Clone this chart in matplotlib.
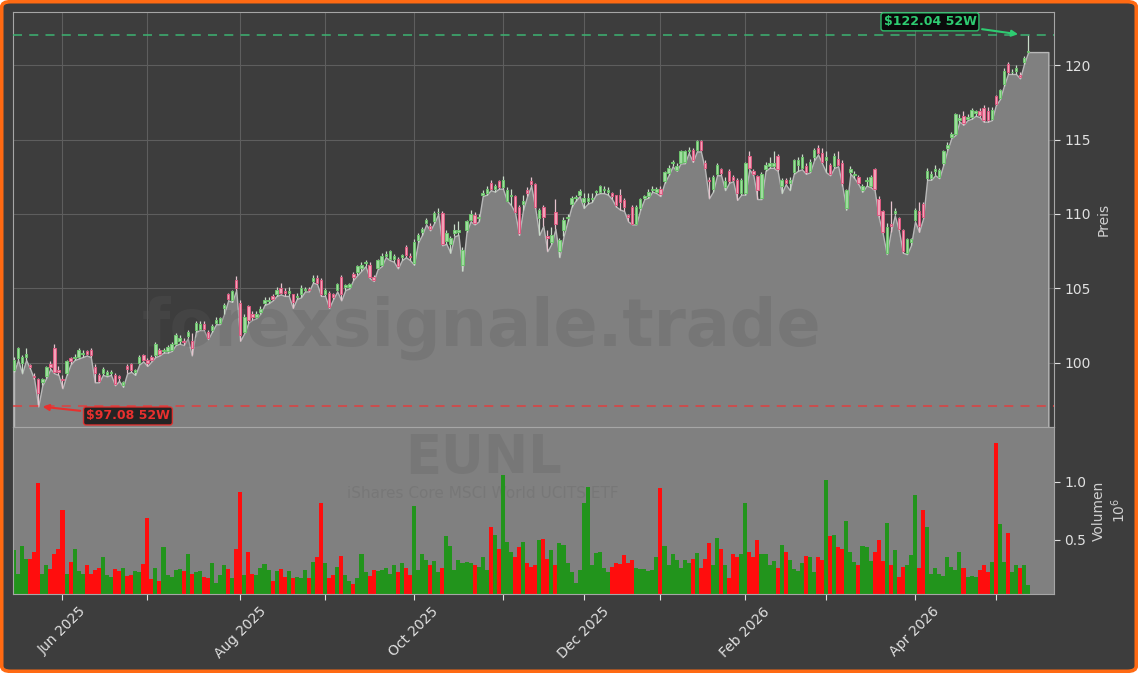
import matplotlib
matplotlib.use("Agg")
import matplotlib.pyplot as plt
import numpy as np
import pandas as pd
from matplotlib.patches import FancyBboxPatch

# daily OHLC of EUNL (Xetra)
opens = [
    99.5, 100.3, 100.0, 100.4, 99.85, 99.15, 98.9, 98.7, 99.1, 99.9,
    101.0, 99.5, 98.95, 99.3, 100.3, 100.35, 100.4, 100.6, 100.8, 100.9,
    99.75, 99.2, 99.3, 99.2, 99.3, 99.2, 99.1, 98.5, 99.8, 99.9,
    99.4, 100.0, 100.5, 100.2, 100.4, 100.5, 100.9, 100.8, 100.8, 100.9,
    101.3, 101.5, 101.5, 101.8, 101.5, 102.2, 102.3, 102.6, 102.1, 102.2,
    102.7, 102.7, 103.7, 104.6, 104.2, 105.6, 104.05, 102.1, 103.8, 103.3,
    103.1, 103.4, 104.05, 104.15, 104.5, 104.6, 105.0, 104.8, 104.7, 104.6,
    104.4, 104.6, 104.9, 104.95, 105.5, 105.7, 105.6, 104.6, 104.7, 104.6,
    104.9, 105.75, 105.1, 105.1, 106.0, 106.1, 106.35, 106.7, 106.6, 105.8,
    106.4, 106.6, 107.2, 107.0, 107.0, 107.0, 107.1, 107.8, 107.2, 106.7,
    108.25, 108.8, 109.4, 109.2, 109.5, 110.1, 110.05, 108.2, 108.0, 108.75,
    108.8, 106.6, 108.9, 109.6, 109.9, 109.7, 111.3, 111.4, 112.1, 111.7,
    112.2, 111.8, 110.9, 111.2, 111.2, 110.5, 110.7, 111.6, 112.2, 112.0,
    109.7, 110.5, 108.5, 108.15, 110.1, 107.5, 108.9, 109.7, 110.7, 111.1,
    111.3, 110.8, 110.85, 111.0, 111.45, 111.5, 111.6, 111.5, 111.4, 111.3,
    111.3, 110.95, 109.95, 110.45, 109.3, 110.4, 111.1, 111.2, 111.6, 111.5,
    111.7, 112.2, 112.75, 113.4, 112.95, 113.45, 113.5, 114.2, 114.3, 114.3,
    114.9, 113.4, 112.3, 111.7, 112.7, 113.0, 111.8, 112.9, 112.45, 112.3,
    111.4, 111.4, 113.9, 112.9, 112.55, 111.05, 113.0, 113.2, 113.2, 113.9,
    111.9, 112.3, 112.1, 112.8, 113.3, 113.1, 113.2, 112.9, 113.8, 114.4,
    114.1, 113.6, 113.3, 113.2, 113.7, 113.4, 110.4, 112.8, 112.6, 112.5,
    111.6, 112.2, 111.9, 113.0, 111.0, 110.2, 107.4, 109.3, 110.05, 109.7,
    108.9, 107.4, 108.1, 109.6, 110.2, 110.7, 112.4, 112.4, 112.9, 112.5,
    113.4, 114.4, 115.2, 115.4, 116.3, 116.6, 116.4, 116.5, 116.8, 116.9,
    117.1, 116.9, 116.4, 117.9, 117.8, 118.7, 120.07, 119.5, 119.6, 119.3,
    120.2, 120.9,
]
highs = [
    100.4, 101.1, 100.5, 101.0, 99.9, 99.3, 99.0, 99.0, 99.8, 100.1,
    101.3, 99.8, 99.2, 100.2, 100.4, 100.6, 101.0, 100.9, 100.9, 101.0,
    99.9, 99.3, 99.7, 99.5, 99.5, 99.3, 99.2, 98.8, 99.9, 100.0,
    99.6, 100.5, 100.6, 100.3, 100.5, 101.4, 101.0, 101.0, 101.2, 101.4,
    102.0, 101.9, 101.7, 102.2, 102.0, 102.8, 102.8, 102.8, 102.2, 102.6,
    103.1, 103.1, 104.0, 104.7, 104.9, 105.85, 104.2, 103.3, 103.9, 103.5,
    103.5, 103.8, 104.4, 104.4, 104.6, 105.1, 105.35, 105.0, 105.1, 104.6,
    104.7, 105.2, 105.1, 105.1, 105.9, 105.9, 105.7, 105.0, 104.8, 104.7,
    105.4, 105.9, 105.3, 105.4, 106.1, 106.6, 106.8, 106.9, 106.8, 105.9,
    107.0, 107.4, 107.5, 107.6, 107.3, 107.1, 107.3, 107.9, 107.4, 108.3,
    108.7, 109.1, 109.7, 109.4, 110.2, 110.4, 110.2, 108.9, 108.5, 109.3,
    109.5, 107.8, 109.6, 110.3, 110.1, 110.0, 111.6, 111.9, 112.3, 112.0,
    112.3, 112.55, 111.8, 111.7, 111.3, 110.6, 111.3, 111.8, 112.45, 112.1,
    110.4, 110.6, 108.9, 109.1, 111.0, 108.4, 109.8, 110.0, 111.2, 111.3,
    111.7, 111.4, 111.4, 111.4, 111.6, 111.95, 111.9, 111.8, 111.5, 111.3,
    111.7, 111.1, 110.0, 110.6, 110.6, 111.1, 111.3, 111.7, 111.9, 111.8,
    111.9, 112.9, 113.3, 113.6, 113.4, 114.3, 114.3, 114.5, 114.4, 115.0,
    114.95, 113.6, 112.5, 112.6, 113.4, 113.1, 112.5, 113.0, 112.6, 112.4,
    112.4, 113.5, 114.2, 113.0, 112.6, 112.8, 113.5, 113.8, 114.2, 114.0,
    112.4, 112.4, 112.5, 113.7, 113.8, 114.0, 113.4, 113.7, 114.4, 114.6,
    114.4, 114.2, 113.4, 114.1, 114.2, 113.6, 111.7, 113.2, 112.9, 112.6,
    112.0, 112.5, 112.6, 113.1, 111.2, 110.3, 109.4, 110.9, 110.4, 109.8,
    109.0, 108.4, 108.4, 110.4, 110.8, 110.8, 113.1, 112.9, 113.3, 113.1,
    114.3, 114.8, 115.5, 116.8, 116.7, 116.9, 116.7, 117.1, 117.0, 117.1,
    117.3, 117.2, 117.2, 118.0, 118.4, 119.8, 120.2, 119.7, 120.0, 119.5,
    120.6, 122.04,
]
lows = [
    99.4, 100.2, 99.3, 100.2, 99.6, 98.9, 97.08, 98.5, 99.0, 99.6,
    99.3, 99.2, 98.3, 99.2, 99.9, 100.2, 100.3, 100.4, 100.5, 100.4,
    98.7, 98.7, 99.2, 99.1, 99.2, 98.5, 98.8, 98.4, 99.3, 99.4,
    99.2, 99.9, 100.1, 99.8, 100.1, 100.4, 100.5, 100.7, 100.7, 100.8,
    101.2, 101.3, 101.2, 101.65, 100.5, 102.1, 102.2, 102.2, 101.6, 102.1,
    102.6, 102.6, 103.3, 104.2, 104.1, 104.9, 101.5, 102.0, 102.7, 102.9,
    103.0, 103.3, 103.9, 104.0, 104.2, 104.5, 104.6, 104.5, 104.5, 103.7,
    104.3, 104.4, 104.8, 104.8, 105.4, 105.3, 104.5, 104.5, 103.7, 104.3,
    104.8, 104.2, 104.9, 105.0, 105.6, 105.9, 106.2, 106.5, 105.7, 105.5,
    106.3, 106.5, 107.1, 106.9, 106.8, 106.35, 106.9, 107.1, 106.9, 106.6,
    108.1, 108.6, 109.3, 108.9, 109.4, 110.0, 107.9, 108.0, 107.4, 108.5,
    108.6, 106.2, 108.8, 109.5, 109.3, 109.5, 111.2, 111.3, 111.6, 111.5,
    111.7, 111.7, 110.9, 110.6, 110.1, 108.6, 110.3, 111.2, 111.9, 110.4,
    108.6, 109.2, 107.5, 108.0, 109.0, 107.1, 108.5, 109.5, 110.5, 110.9,
    111.2, 110.4, 110.7, 110.8, 111.3, 111.4, 111.4, 111.3, 111.0, 110.5,
    110.3, 110.2, 109.5, 109.3, 109.3, 110.3, 111.0, 111.1, 111.5, 111.4,
    111.2, 112.1, 112.6, 113.2, 112.9, 113.4, 113.4, 114.1, 113.5, 114.2,
    114.2, 113.0, 111.05, 111.5, 112.6, 112.6, 111.6, 112.1, 112.2, 110.95,
    111.3, 111.3, 113.0, 112.6, 111.0, 111.0, 112.9, 113.1, 113.1, 112.9,
    111.4, 112.0, 111.6, 112.7, 112.9, 113.0, 112.7, 112.8, 113.6, 114.0,
    113.4, 112.8, 112.6, 113.1, 113.2, 111.9, 110.3, 112.7, 112.4, 112.0,
    111.5, 111.9, 111.8, 111.6, 109.8, 108.7, 107.3, 108.8, 109.9, 108.9,
    107.4, 107.3, 107.9, 109.5, 108.8, 109.7, 112.3, 112.3, 112.6, 112.4,
    113.3, 114.3, 115.1, 115.3, 116.2, 116.0, 116.3, 116.4, 116.6, 116.5,
    116.2, 116.2, 116.3, 117.3, 117.7, 118.6, 119.4, 119.4, 119.4, 119.1,
    120.1, 120.87,
]
closes = [
    100.2, 101.0, 100.4, 100.6, 99.75, 99.05, 98.0, 98.9, 99.7, 99.75,
    99.4, 99.4, 98.85, 100.1, 100.1, 100.4, 100.9, 100.7, 100.6, 100.5,
    99.3, 98.8, 99.6, 99.4, 99.4, 98.6, 99.0, 98.7, 99.6, 99.5,
    99.5, 100.4, 100.2, 100.0, 100.2, 101.3, 100.6, 100.85, 101.05, 101.3,
    101.9, 101.7, 101.4, 102.1, 101.0, 102.7, 102.6, 102.3, 101.7, 102.5,
    102.9, 103.0, 103.9, 104.3, 104.85, 105.0, 101.9, 103.1, 102.9, 103.1,
    103.3, 103.6, 104.2, 104.2, 104.3, 104.9, 104.7, 104.7, 104.8, 104.1,
    104.5, 105.0, 104.95, 104.9, 105.7, 105.4, 104.6, 104.9, 103.75, 104.4,
    105.3, 104.6, 105.2, 105.3, 105.8, 106.5, 106.6, 106.75, 105.75, 105.6,
    106.9, 107.2, 107.3, 107.5, 107.2, 106.5, 107.25, 107.25, 107.1, 108.1,
    108.6, 109.0, 109.6, 109.0, 110.05, 110.15, 108.0, 108.75, 108.4, 108.9,
    108.9, 107.6, 109.5, 110.0, 109.4, 109.8, 111.4, 111.7, 111.7, 111.85,
    111.8, 112.3, 111.6, 111.3, 110.15, 108.7, 110.9, 111.4, 112.0, 110.45,
    110.3, 109.8, 108.4, 108.6, 109.3, 108.25, 109.6, 109.8, 111.1, 111.15,
    111.55, 111.05, 111.1, 111.1, 111.55, 111.9, 111.7, 111.6, 111.2, 110.6,
    110.8, 110.45, 109.8, 109.35, 110.5, 111.0, 111.2, 111.5, 111.65, 111.7,
    111.35, 112.8, 113.1, 113.5, 113.25, 114.2, 114.2, 114.3, 113.6, 114.9,
    114.3, 113.1, 112.2, 112.5, 113.3, 112.75, 112.2, 112.2, 112.3, 111.4,
    112.3, 113.45, 113.1, 112.7, 111.6, 112.7, 113.3, 113.45, 113.4, 113.0,
    112.3, 112.1, 112.3, 113.6, 113.6, 113.8, 112.8, 113.5, 114.3, 114.1,
    113.5, 113.8, 112.7, 113.9, 113.3, 112.1, 111.6, 113.05, 112.7, 112.1,
    111.9, 112.3, 112.5, 111.7, 109.9, 108.8, 109.15, 109.2, 110.2, 109.0,
    107.5, 108.3, 108.3, 110.3, 109.2, 109.8, 112.9, 112.7, 113.0, 112.96,
    114.2, 114.6, 115.35, 116.7, 116.45, 116.1, 116.5, 117.0, 116.9, 116.65,
    116.3, 116.3, 117.0, 117.4, 118.3, 119.6, 119.55, 119.55, 119.8, 119.2,
    120.45, 120.95,
]
# volume in millions of shares
volumes = [
    0.41, 0.21, 0.45, 0.34, 0.34, 0.40, 0.99, 0.21, 0.28, 0.25,
    0.38, 0.42, 0.76, 0.21, 0.31, 0.42, 0.23, 0.21, 0.28, 0.21,
    0.24, 0.26, 0.35, 0.20, 0.18, 0.25, 0.23, 0.26, 0.19, 0.20,
    0.23, 0.22, 0.29, 0.69, 0.16, 0.26, 0.15, 0.44, 0.20, 0.18,
    0.24, 0.25, 0.23, 0.38, 0.21, 0.22, 0.23, 0.18, 0.17, 0.30,
    0.13, 0.20, 0.28, 0.25, 0.17, 0.42, 0.91, 0.20, 0.40, 0.21,
    0.20, 0.26, 0.29, 0.24, 0.15, 0.23, 0.25, 0.18, 0.23, 0.17,
    0.18, 0.17, 0.24, 0.17, 0.31, 0.35, 0.82, 0.30, 0.17, 0.20,
    0.27, 0.36, 0.20, 0.15, 0.12, 0.17, 0.38, 0.22, 0.19, 0.24,
    0.23, 0.24, 0.26, 0.21, 0.28, 0.22, 0.30, 0.26, 0.20, 0.79,
    0.24, 0.38, 0.33, 0.28, 0.32, 0.22, 0.26, 0.53, 0.45, 0.24,
    0.33, 0.30, 0.31, 0.30, 0.28, 0.27, 0.35, 0.24, 0.61, 0.54,
    0.42, 1.06, 0.48, 0.40, 0.35, 0.44, 0.48, 0.30, 0.27, 0.28,
    0.50, 0.51, 0.34, 0.41, 0.28, 0.47, 0.46, 0.30, 0.22, 0.13,
    0.24, 0.82, 0.96, 0.28, 0.39, 0.40, 0.26, 0.22, 0.27, 0.30,
    0.29, 0.37, 0.30, 0.33, 0.26, 0.25, 0.25, 0.23, 0.24, 0.35,
    0.95, 0.45, 0.28, 0.38, 0.33, 0.26, 0.33, 0.30, 0.34, 0.39,
    0.26, 0.34, 0.47, 0.28, 0.52, 0.42, 0.28, 0.17, 0.38, 0.35,
    0.38, 0.82, 0.40, 0.35, 0.50, 0.38, 0.38, 0.28, 0.32, 0.26,
    0.46, 0.40, 0.33, 0.25, 0.23, 0.30, 0.36, 0.35, 0.22, 0.35,
    0.33, 1.02, 0.53, 0.54, 0.44, 0.42, 0.66, 0.40, 0.31, 0.28,
    0.45, 0.44, 0.32, 0.40, 0.50, 0.32, 0.65, 0.28, 0.41, 0.18,
    0.27, 0.28, 0.37, 0.89, 0.26, 0.76, 0.61, 0.21, 0.26, 0.21,
    0.19, 0.35, 0.27, 0.24, 0.40, 0.26, 0.18, 0.19, 0.18, 0.24,
    0.28, 0.22, 0.31, 1.34, 0.635, 0.31, 0.56, 0.22, 0.28, 0.26,
    0.28, 0.11,
]

high_52w = 122.04
low_52w = 97.08
xetra_holidays = ["2025-10-03", "2025-12-24", "2025-12-25", "2025-12-26", "2025-12-31",
                  "2026-01-01", "2026-04-03", "2026-04-06", "2026-05-01"]
dates = pd.bdate_range("2025-05-15", "2026-05-14", freq="C", holidays=xetra_holidays)

o = np.array(opens)
h = np.array(highs)
l = np.array(lows)
c = np.array(closes)
v = np.array(volumes)
x = np.arange(len(c))

BG = "#3d3d3d"
TXT = "#e0e0e0"
SPINE = "#a6a6a6"

fig = plt.figure(figsize=(11.38, 6.73), dpi=100, facecolor="white")
fig.patches.append(FancyBboxPatch((0.0015, 0.0025), 0.997, 0.995,
                                  boxstyle="round,pad=0,rounding_size=0.008",
                                  transform=fig.transFigure, facecolor=BG,
                                  edgecolor="#ff6a13", linewidth=2.6, zorder=-10))

ax1 = fig.add_axes([13 / 1138, 1 - 427 / 673, 1041 / 1138, 415 / 673])
ax2 = fig.add_axes([13 / 1138, 1 - 594 / 673, 1041 / 1138, 167 / 673], sharex=ax1)
ax1.set_facecolor(BG)
ax2.set_facecolor("#808080")

# price area under the lows, held flat a few bars past the last session
pad = 5
xf = np.r_[x, x[-1] + pad]
lf = np.r_[l, l[-1]]
ax1.fill_between(xf, lf, 90, facecolor="#808080", edgecolor="#b8b8b8", linewidth=1.0, zorder=1)

up = c >= o
ax1.vlines(x, l, h, colors=np.where(up, "#c8dcc8", "#e6c3cd"), linewidth=0.9, zorder=3)
body_lo = np.minimum(o, c)
body_h = np.maximum(np.abs(c - o), 0.05)
ax1.bar(x, body_h, bottom=body_lo, width=0.6,
        color=np.where(up, "#9fdc9f", "#f2a2b8"),
        edgecolor=np.where(up, "#6cc46c", "#dc5a80"), linewidth=0.7, zorder=4)

ax1.axhline(high_52w, color="#3cb371", linestyle=(0, (5, 4)), linewidth=1.3, alpha=0.85, zorder=5)
ax1.axhline(low_52w, color="#e04040", linestyle=(0, (5, 4)), linewidth=1.3, alpha=0.85, zorder=5)

ax1.annotate(f"\\${high_52w:.2f} 52W", xy=(x[-1] - 1.8, high_52w), xytext=(226.7, 122.9),
             ha="center", va="center", fontsize=9, fontweight="bold", color="#2ecc71",
             bbox=dict(boxstyle="round,pad=0.2", facecolor="#050505", edgecolor="#2ecc71", alpha=0.9),
             arrowprops=dict(arrowstyle="-|>", color="#2ecc71", lw=1.5), zorder=6)
ax1.annotate(f"\\${low_52w:.2f} 52W", xy=(6.4, low_52w), xytext=(28.2, 96.44),
             ha="center", va="center", fontsize=9, fontweight="bold", color="#e8302e",
             bbox=dict(boxstyle="round,pad=0.2", facecolor="#1a1a1a", edgecolor="#e8302e", alpha=0.9),
             arrowprops=dict(arrowstyle="-|>", color="#e8302e", lw=1.5), zorder=6)

ax1.set_ylim(95.7, 123.56)
ax1.set_yticks([100, 105, 110, 115, 120])
ax1.yaxis.tick_right()
ax1.yaxis.set_label_position("right")
ax1.set_ylabel("Preis", color="#d0d0d0", fontsize=10, labelpad=4)
ax1.set_axisbelow(True)
ax1.grid(True, color="#5e5e5e", linewidth=0.8)
ax1.tick_params(axis="x", bottom=False, labelbottom=False)
ax1.tick_params(axis="y", colors=TXT, labelsize=10, length=4)

# volume panel
ax2.bar(x, v, width=1.0, color=np.where(up, "#22941c", "#ff0d0d"), linewidth=0, zorder=2)
ax2.set_ylim(0.034, 1.474)
ax2.set_yticks([0.5, 1.0])
ax2.yaxis.tick_right()
ax2.yaxis.set_label_position("right")
ax2.set_ylabel("Volumen\n$10^6$", color="#d0d0d0", fontsize=10, labelpad=4)
ax2.tick_params(axis="y", colors=TXT, labelsize=10, length=4)

month_key = dates.year * 12 + dates.month
starts = np.flatnonzero(np.diff(month_key)) + 1
labels = [d.strftime("%b %Y") if d.month % 2 == 0 else "" for d in dates[starts]]
ax2.set_xticks(starts)
ax2.set_xticklabels(labels, rotation=45)
ax2.tick_params(axis="x", colors=TXT, labelsize=10, length=4)
ax1.set_xlim(-0.25, 257.4)

for ax in (ax1, ax2):
    for s in ax.spines.values():
        s.set_color(SPINE)

# watermark
ax1.text(482 / 1138, 1 - 328 / 673, "forexsignale.trade", transform=fig.transFigure,
         ha="center", va="center", fontsize=47, fontweight="bold", color="#5a5a5a",
         alpha=0.26, zorder=2)
ax2.text(483 / 1138, 1 - 458 / 673, "EUNL", transform=fig.transFigure,
         ha="center", va="center", fontsize=38, fontweight="bold", color="#5a5a5a",
         alpha=0.22, zorder=1)
ax2.text(483 / 1138, 1 - 494 / 673, "iShares Core MSCI World UCITS ETF", transform=fig.transFigure,
         ha="center", va="center", fontsize=11, color="#5a5a5a", alpha=0.22, zorder=1)

fig.savefig("out.png", dpi=100, facecolor=fig.get_facecolor())
